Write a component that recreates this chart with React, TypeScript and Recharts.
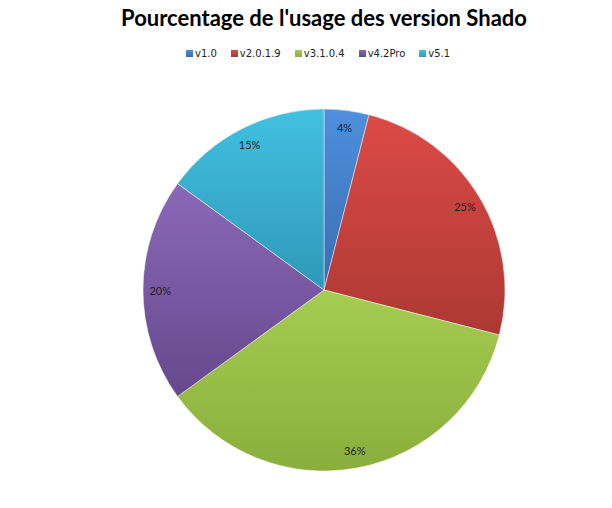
import React from 'react';
import { PieChart, Pie, Cell } from 'recharts';

const versions = ['v1.0', 'v2.0.1.9', 'v3.1.0.4', 'v4.2Pro', 'v5.1'];
const shares = [4, 25, 36, 20, 15];

const topColors = ['#4f8fdc', '#dc4a46', '#a6cc52', '#8a68b8', '#42c0e0'];
const bottomColors = ['#3a6cb0', '#ac3833', '#8aae3c', '#66488c', '#2f98b8'];

const data = versions.map((name, i) => ({ name, value: shares[i] }));

const RAD = Math.PI / 180;

const renderLabel = (props: any) => {
  const { cx, cy, midAngle, outerRadius, value } = props;
  const r = outerRadius * 0.905;
  const x = cx + r * Math.cos(-midAngle * RAD);
  const y = cy + r * Math.sin(-midAngle * RAD);
  return (
    <text
      x={x}
      y={y}
      textAnchor="middle"
      dominantBaseline="central"
      fontSize={11}
      fontFamily="Lato, 'Open Sans', sans-serif"
      fill="#222"
    >
      {`${value}%`}
    </text>
  );
};

export default function App() {
  return (
    <div style={{ position: 'relative', width: 612, height: 508, background: '#fff', margin: -8 }}>
      <div
        style={{
          position: 'absolute',
          top: 4,
          left: 0,
          width: 648,
          textAlign: 'center',
          fontFamily: 'Lato, sans-serif',
          fontWeight: 700,
          fontSize: 22,
          color: '#000',
        }}
      >
        Pourcentage de l'usage des version Shado
      </div>
      <div
        style={{
          position: 'absolute',
          top: 48,
          left: 186,
          display: 'flex',
          fontFamily: "'DejaVu Sans', sans-serif",
          fontSize: 10,
          color: '#222',
        }}
      >
        {versions.map((v, i) => (
          <div key={v} style={{ display: 'flex', alignItems: 'center', marginRight: 14 }}>
            <span
              style={{
                display: 'inline-block',
                width: 7,
                height: 7,
                marginRight: 2,
                background: `linear-gradient(${topColors[i]}, ${bottomColors[i]})`,
              }}
            />
            {v}
          </div>
        ))}
      </div>
      <PieChart
        width={612}
        height={508}
        margin={{ top: 0, right: 0, bottom: 0, left: 0 }}
        style={{ position: 'absolute', top: 0, left: 0 }}
      >
        <defs>
          {versions.map((v, i) => (
            <linearGradient key={v} id={`g${i}`} x1="0" y1="0" x2="0" y2="1">
              <stop offset="0%" stopColor={topColors[i]} />
              <stop offset="100%" stopColor={bottomColors[i]} />
            </linearGradient>
          ))}
        </defs>
        <Pie
          data={data}
          dataKey="value"
          nameKey="name"
          cx={324}
          cy={290}
          outerRadius={181}
          startAngle={90}
          endAngle={-270}
          label={renderLabel}
          labelLine={false}
          isAnimationActive={false}
        >
          {data.map((d, i) => (
            <Cell key={d.name} fill={`url(#g${i})`} stroke="rgba(255,255,255,0.45)" strokeWidth={1} />
          ))}
        </Pie>
      </PieChart>
    </div>
  );
}
